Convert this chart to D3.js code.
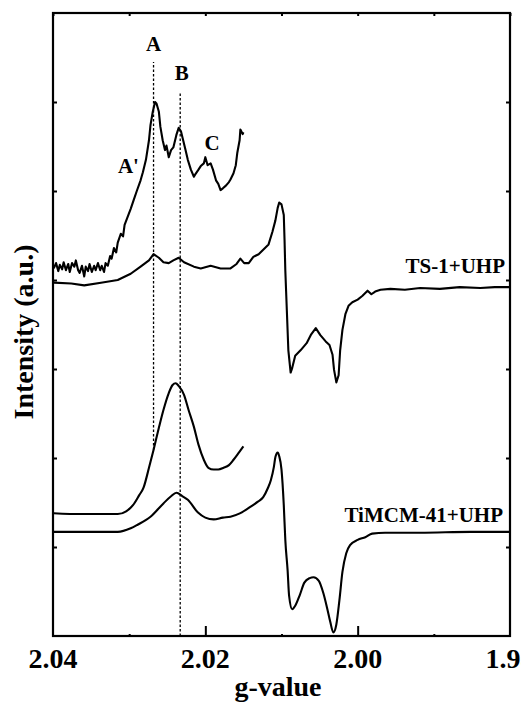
<!DOCTYPE html>
<html>
<head>
<meta charset="utf-8">
<script src="https://cdn.jsdelivr.net/npm/d3@7"></script>
<style>
  body { margin: 0; background: #fff; }
  text { font-family: "Liberation Serif", "Times New Roman", serif; font-weight: bold; fill: #000; }
</style>
</head>
<body>
<div class="chart"></div>
<script>
// g-value ticks
const xTicks = [2.04, 2.02, 2.00, 1.98];
const xMinorTicks = [2.03, 2.01, 1.99];
const yTicks = [1, 2, 3, 4, 5, 6];

// TS-1+UHP, full spectrum  [g, intensity]
const ts1 = [
  [2.0399,3.97],[2.0376,3.96],[2.0359,3.94],[2.0337,3.97],[2.0315,4.00],[2.0298,4.07],[2.0285,4.15],
  [2.0274,4.22],[2.0268,4.29],[2.0261,4.25],[2.0255,4.20],[2.0248,4.19],[2.0242,4.22],[2.0235,4.25],
  [2.0228,4.20],[2.0215,4.15],[2.0206,4.13],[2.0193,4.16],[2.0180,4.13],[2.0167,4.13],[2.0159,4.18],
  [2.0154,4.24],[2.0149,4.19],[2.0143,4.19],[2.0137,4.26],[2.0130,4.29],[2.0124,4.34],[2.0117,4.40],
  [2.0112,4.54],[2.0108,4.67],[2.0105,4.81],[2.0103,4.87],[2.0100,4.85],[2.0097,4.73],[2.0096,4.45],
  [2.0095,4.11],[2.0093,3.66],[2.0091,3.21],[2.0088,2.96],[2.0086,3.01],[2.0082,3.15],[2.0075,3.21],
  [2.0067,3.29],[2.0061,3.39],[2.0055,3.46],[2.0049,3.38],[2.0042,3.31],[2.0037,3.27],[2.0033,3.16],
  [2.0031,2.99],[2.0028,2.85],[2.0025,2.93],[2.0023,3.21],[2.0020,3.44],[2.0016,3.62],[2.0012,3.71],
  [2.0007,3.75],[2.0000,3.78],[1.9994,3.82],[1.9987,3.88],[1.9982,3.84],[1.9977,3.87],[1.9970,3.89],
  [1.9957,3.90],[1.9938,3.89],[1.9918,3.91],[1.9892,3.90],[1.9866,3.92],[1.9839,3.91],[1.9820,3.92],
  [1.9799,3.92]
];

// TS-1+UHP, magnified low-field part
const ts1Zoom = [
  [2.0399,4.13],[2.0396,4.19],[2.0393,4.10],[2.0391,4.17],[2.0388,4.12],[2.0386,4.20],[2.0383,4.11],
  [2.0380,4.18],[2.0378,4.09],[2.0375,4.19],[2.0372,4.15],[2.0370,4.22],[2.0367,4.11],[2.0365,4.08],
  [2.0362,4.16],[2.0359,4.04],[2.0357,4.15],[2.0354,4.10],[2.0352,4.18],[2.0349,4.09],[2.0346,4.16],
  [2.0344,4.11],[2.0341,4.19],[2.0338,4.11],[2.0336,4.16],[2.0333,4.09],[2.0331,4.19],[2.0328,4.16],
  [2.0325,4.27],[2.0323,4.24],[2.0320,4.36],[2.0317,4.31],[2.0315,4.42],[2.0311,4.52],[2.0308,4.49],
  [2.0306,4.62],[2.0302,4.71],[2.0298,4.80],[2.0294,4.90],[2.0290,5.00],[2.0285,5.12],[2.0282,5.21],
  [2.0278,5.35],[2.0274,5.57],[2.0272,5.74],[2.0269,5.89],[2.0266,6.00],[2.0264,5.98],[2.0261,5.89],
  [2.0259,5.72],[2.0256,5.57],[2.0253,5.46],[2.0251,5.51],[2.0248,5.38],[2.0245,5.46],[2.0242,5.49],
  [2.0238,5.63],[2.0235,5.71],[2.0232,5.67],[2.0230,5.60],[2.0226,5.46],[2.0223,5.35],[2.0219,5.24],
  [2.0215,5.16],[2.0213,5.19],[2.0209,5.24],[2.0206,5.28],[2.0202,5.31],[2.0200,5.38],[2.0197,5.29],
  [2.0193,5.31],[2.0190,5.24],[2.0186,5.12],[2.0183,5.08],[2.0180,5.01],[2.0177,5.03],[2.0173,5.06],
  [2.0169,5.10],[2.0167,5.13],[2.0163,5.20],[2.0160,5.29],[2.0158,5.43],[2.0155,5.57],[2.0154,5.69],
  [2.0151,5.64],[2.0150,5.66]
];

// TiMCM-41+UHP, full spectrum
const timcm = [
  [2.0399,1.17],[2.0315,1.17],[2.0298,1.21],[2.0289,1.25],[2.0272,1.34],[2.0255,1.49],[2.0245,1.57],
  [2.0238,1.61],[2.0230,1.57],[2.0223,1.53],[2.0210,1.39],[2.0200,1.33],[2.0189,1.31],[2.0177,1.33],
  [2.0167,1.34],[2.0154,1.38],[2.0141,1.45],[2.0131,1.51],[2.0124,1.56],[2.0118,1.66],[2.0114,1.75],
  [2.0110,1.90],[2.0108,2.01],[2.0105,2.06],[2.0103,2.02],[2.0100,1.87],[2.0097,1.47],[2.0095,1.08],
  [2.0092,0.74],[2.0090,0.45],[2.0086,0.30],[2.0082,0.34],[2.0076,0.46],[2.0070,0.60],[2.0063,0.65],
  [2.0058,0.66],[2.0051,0.62],[2.0045,0.48],[2.0040,0.31],[2.0036,0.16],[2.0032,0.04],[2.0028,0.13],
  [2.0024,0.40],[2.0020,0.72],[2.0015,0.93],[2.0010,1.02],[2.0000,1.08],[1.9990,1.11],[1.9981,1.15],
  [1.9964,1.16],[1.9918,1.16],[1.9852,1.17],[1.9799,1.17]
];

// TiMCM-41+UHP, magnified low-field part
const timcmZoom = [
  [2.0399,1.38],[2.0363,1.37],[2.0315,1.37],[2.0304,1.40],[2.0295,1.47],[2.0287,1.58],[2.0281,1.67],
  [2.0274,1.89],[2.0268,2.09],[2.0261,2.34],[2.0255,2.54],[2.0248,2.73],[2.0243,2.82],[2.0239,2.84],
  [2.0235,2.81],[2.0228,2.71],[2.0222,2.54],[2.0215,2.35],[2.0209,2.15],[2.0202,1.98],[2.0196,1.89],
  [2.0189,1.87],[2.0183,1.87],[2.0176,1.89],[2.0169,1.92],[2.0163,1.98],[2.0156,2.06],[2.0150,2.13]
];

// dotted marker lines  [g, from, to]
const markers = [
  [2.0268, 2.09, 6.45],
  [2.0233, 0, 6.11]
];

const peakLabels = [
  ["A", 2.0268, 6.57],
  ["B", 2.0231, 6.25],
  ["A'", 2.0301, 5.20],
  ["C", 2.0191, 5.46]
];

const W = 521, H = 702;
const svg = d3.select(".chart").append("svg")
  .attr("width", W)
  .attr("height", H);

const x = d3.scaleLinear().domain([2.04, 1.98]).range([53, 510]);
const y = d3.scaleLinear().domain([0, 7]).range([636, 13]);

// noisy TS-1 traces stay straight-segment, TiMCM traces are smooth
const line = d3.line().x(d => x(d[0])).y(d => y(d[1]));
const smooth = d3.line().x(d => x(d[0])).y(d => y(d[1])).curve(d3.curveMonotoneX);

// dotted lines
svg.selectAll(".marker")
  .data(markers)
  .enter().append("line")
  .attr("x1", d => x(d[0])).attr("x2", d => x(d[0]))
  .attr("y1", d => y(d[1])).attr("y2", d => y(d[2]))
  .attr("stroke", "#000")
  .attr("stroke-width", 1.3)
  .attr("stroke-dasharray", "2.5,2");

// spectra
[[ts1, line], [ts1Zoom, line], [timcm, smooth], [timcmZoom, smooth]].forEach(([s, gen]) => {
  svg.append("path")
    .datum(s)
    .attr("d", gen)
    .attr("fill", "none")
    .attr("stroke", "#000")
    .attr("stroke-width", 2.1)
    .attr("stroke-linejoin", "round");
});

// axes
svg.append("g")
  .attr("transform", "translate(0,636)")
  .call(d3.axisTop(x).tickValues(xTicks.slice(1, 3)).tickSize(10).tickFormat(""))
  .call(g => g.select(".domain").remove());
svg.append("g")
  .attr("transform", "translate(0,636)")
  .call(d3.axisTop(x).tickValues(xMinorTicks).tickSize(2).tickFormat(""))
  .call(g => g.select(".domain").remove());
svg.append("g")
  .attr("transform", "translate(0,13)")
  .call(d3.axisBottom(x).tickValues(xTicks.concat(xMinorTicks)).tickSize(3).tickFormat(""))
  .call(g => g.select(".domain").remove());
svg.append("g")
  .attr("transform", "translate(53,0)")
  .call(d3.axisRight(y).tickValues(yTicks).tickSize(4).tickFormat(""))
  .call(g => g.select(".domain").remove());
svg.append("g")
  .attr("transform", "translate(510,0)")
  .call(d3.axisLeft(y).tickValues(yTicks).tickSize(4).tickFormat(""))
  .call(g => g.select(".domain").remove());
svg.selectAll(".tick line").attr("stroke-width", 2);

// frame
svg.append("rect")
  .attr("x", 53).attr("y", 13)
  .attr("width", 457).attr("height", 623)
  .attr("fill", "none")
  .attr("stroke", "#000")
  .attr("stroke-width", 2.2);

// tick labels (the last one runs off the right edge, as in the original)
svg.selectAll(".xlab")
  .data(xTicks)
  .enter().append("text")
  .attr("x", d => x(d))
  .attr("y", 668)
  .attr("text-anchor", "middle")
  .style("font-size", "28px")
  .text(d => d.toFixed(2));

svg.append("text")
  .attr("x", 278).attr("y", 696)
  .attr("text-anchor", "middle")
  .style("font-size", "28px")
  .text("g-value");

svg.append("text")
  .attr("transform", "translate(33,332) rotate(-90)")
  .attr("text-anchor", "middle")
  .style("font-size", "28px")
  .text("Intensity (a.u.)");

// peak labels
svg.selectAll(".peak")
  .data(peakLabels)
  .enter().append("text")
  .attr("x", d => x(d[1]))
  .attr("y", d => y(d[2]))
  .attr("text-anchor", "middle")
  .style("font-size", "21px")
  .text(d => d[0]);

// sample names
svg.append("text")
  .attr("x", 505).attr("y", 273)
  .attr("text-anchor", "end")
  .style("font-size", "21px")
  .text("TS-1+UHP");
svg.append("text")
  .attr("x", 503).attr("y", 522)
  .attr("text-anchor", "end")
  .style("font-size", "21px")
  .text("TiMCM-41+UHP");
</script>
</body>
</html>
